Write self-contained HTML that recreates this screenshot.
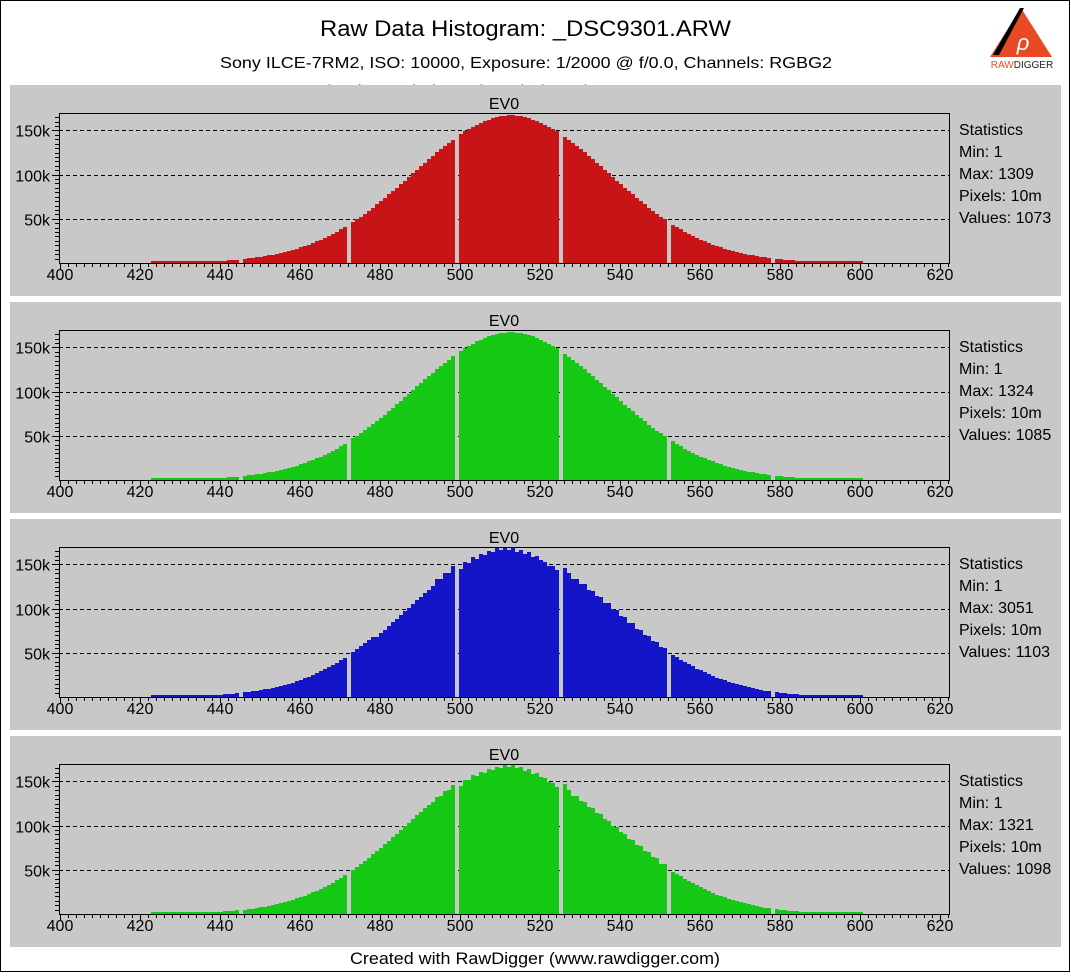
<!DOCTYPE html>
<html><head><meta charset="utf-8"><style>
html,body{margin:0;padding:0;background:#fff}
body{width:1071px;height:973px;position:relative;overflow:hidden;font-family:"Liberation Sans",Arial,sans-serif}
svg text{font-family:"Liberation Sans",Arial,sans-serif}
</style></head><body>
<svg id="chart" width="1071" height="973" viewBox="0 0 1071 973" xmlns="http://www.w3.org/2000/svg">
<rect x="0.5" y="0.5" width="1069" height="971" fill="#fff" stroke="#000"/>
<text x="320" y="36" font-size="22" textLength="411" lengthAdjust="spacingAndGlyphs">Raw Data Histogram: _DSC9301.ARW</text>
<text x="220" y="68" font-size="16" textLength="612" lengthAdjust="spacingAndGlyphs">Sony ILCE-7RM2, ISO: 10000, Exposure: 1/2000 @ f/0.0, Channels: RGBG2</text>
<text x="300" y="96" font-size="16">Scale: Linear, Black Level: 0, Black Mask: 0, 0, 0, 0</text>
<g>
<polygon points="1021,8 1052,57 990,57" fill="#e84a25"/>
<polygon points="1020,8 1024,8 999,55 993,55" fill="#000"/>
<text x="1023" y="50" font-size="22" fill="#fff" text-anchor="middle" font-style="italic">ρ</text>
<text x="1022" y="68" font-size="10" text-anchor="middle"><tspan fill="#e84a25">RAW</tspan><tspan fill="#222">DIGGER</tspan></text>
</g>
<g id="panels"></g>
<text x="350" y="964" font-size="17" textLength="370" lengthAdjust="spacingAndGlyphs">Created with RawDigger (www.rawdigger.com)</text>
</svg>
<script>
const firstBin = 423;
const xTicks = [400,420,440,460,480,500,520,540,560,580,600,620];
const yTicks = [50,100,150];
const yTickLabels = ["50k","100k","150k"];
const redValues = [.3,.35,.4,.45,.5,.55,.6,.7,.78,.9,1.0,1.1,1.3,1.4,1.6,1.9,2.1,2.4,2.6,2.9,3.3,3.7,0,4.6,5.1,5.7,6.3,7.0,7.7,8.5,9.4,10.3,11.3,12.4,13.6,14.9,16.2,17.7,19.2,20.9,22.6,24.4,26.4,28.5,30.7,33.0,35.5,38.0,40.7,0,46.4,49.4,52.6,55.8,59.2,62.6,66.3,69.9,73.6,77.5,81.3,85.3,89.2,93.3,97.3,101.3,105.5,109.5,113.5,117.5,121.3,125.2,128.9,132.6,136.1,139.5,0,145.8,148.8,151.6,154.2,156.5,158.7,160.6,162.3,163.7,164.9,165.8,166.5,166.9,167,166.5,165.8,164.9,163.7,162.3,160.6,158.7,156.5,154.2,151.6,148.8,0,142.8,139.5,136.1,132.6,128.9,125.2,121.3,117.5,113.5,109.5,105.5,101.3,97.3,93.3,89.2,85.3,81.3,77.5,73.6,69.9,66.3,62.6,59.2,55.8,52.6,49.4,0,43.5,40.7,38.0,35.5,33.0,30.7,28.5,26.4,24.4,22.6,20.9,19.2,17.7,16.2,14.9,13.6,12.4,11.3,10.3,9.4,8.5,7.7,7.0,6.3,5.7,0,4.6,4.1,3.7,3.3,2.9,2.6,2.4,2.1,1.9,1.6,1.4,1.3,1.1,1.0,.9,.78,.7,.6,.5,.45,.4,.3];
const green1Values = [.3,.35,.4,.45,.5,.55,.6,.7,.8,.9,1.0,1.2,1.3,1.5,1.7,1.9,2.1,2.4,2.7,3.0,3.3,3.8,0,4.7,5.2,5.8,6.4,7.1,7.8,8.6,9.5,10.4,11.4,12.5,13.7,15.0,16.3,17.8,19.3,21.0,22.7,24.5,26.5,28.6,30.8,33.1,35.6,38.2,41.0,0,47.0,50.0,53.0,56.2,59.5,63.0,66.6,70.2,74.0,77.8,81.6,85.6,89.5,93.6,97.6,101.6,105.8,109.8,113.8,117.8,121.6,125.4,129.2,132.8,136.3,139.8,0,146.2,149.0,151.8,154.4,156.8,158.9,160.8,162.5,163.9,165.0,166.0,166.6,167,167.2,166.6,165.9,165.0,163.8,162.4,160.7,158.8,156.6,154.3,151.7,148.9,0,143.0,139.7,136.3,132.8,129.1,125.4,121.5,117.6,113.6,109.6,105.6,101.4,97.4,93.4,89.3,85.4,81.4,77.6,73.7,70.0,66.4,62.7,59.3,55.9,52.7,49.5,0,43.6,40.8,38.1,35.6,33.1,30.8,28.6,26.5,24.5,22.7,21.0,19.3,17.8,16.3,15.0,13.7,12.5,11.4,10.4,9.5,8.6,7.8,7.1,6.4,5.8,0,4.7,4.2,3.8,3.4,3.0,2.7,2.4,2.2,1.9,1.7,1.5,1.3,1.2,1.0,.9,.8,.7,.6,.5,.45,.4,.3];
const blueValues = [.3,.35,.4,.45,.5,.6,.65,.75,.85,1.0,1.1,1.2,1.4,1.6,1.8,2.0,2.3,2.6,2.9,3.3,3.7,4.1,0,5.1,5.7,6.3,7.0,7.7,8.6,9.5,10.4,11.4,12.5,13.7,15.0,16.4,17.9,19.5,21.2,23.0,24.8,26.8,28.9,31.2,33.6,36.1,38.8,41.6,44.6,0,50.7,54.0,57.4,60.9,64.6,68.3,68.3,72.2,76.2,80.2,84.3,88.4,92.6,96.8,101.0,105.2,109.4,113.5,117.6,121.6,125.5,133.0,133.0,140.0,140.6,148.5,0,145.0,153.0,152.0,158.0,156.0,162.0,161.0,165.0,163.5,169.0,166.0,169.0,166.0,169.0,164.5,166.0,162.0,164.0,158.0,159.0,155.0,153.0,148.0,148.0,144.0,0,146.0,140.0,134.0,134.0,128.0,128.0,121.0,120.0,114.0,113.0,106.0,106.0,99.0,98.0,92.0,91.0,84.0,84.0,77.0,76.0,70.0,69.0,63.0,62.0,56.0,55.0,0,47.0,45.0,42.0,40.0,37.0,35.0,32.0,30.0,28.0,26.0,24.0,22.0,20.5,19.0,17.5,16.0,14.5,13.2,12.0,11.0,10.0,9.0,8.1,7.3,6.6,0,5.3,4.8,4.3,3.8,3.4,3.0,2.7,2.4,2.1,1.9,1.7,1.5,1.3,1.1,1.0,.9,.8,.7,.6,.5,.45,.35];
const green2Values = [.3,.35,.4,.45,.5,.6,.65,.75,.85,1.0,1.1,1.2,1.4,1.6,1.8,2.0,2.3,2.6,2.9,3.3,3.7,4.1,0,5.0,5.6,6.2,6.9,7.6,8.4,9.3,10.2,11.2,12.3,13.5,14.8,16.1,17.6,19.1,20.8,22.6,24.4,26.4,28.5,30.7,33.1,35.6,38.2,41.0,44.0,0,50.0,53.0,56.5,60.0,63.5,67.5,71.0,75.0,79.0,83.0,87.0,91.0,95.0,99.5,103.5,107.5,111.5,115.5,119.5,123.0,127.0,132.0,134.0,139.0,140.5,146.0,0,145.0,152.0,152.0,157.0,156.5,161.0,160.0,164.0,163.0,166.5,165.5,169.0,166.0,169.0,165.0,166.5,162.0,163.5,158.5,159.0,154.5,154.0,149.0,148.5,144.0,0,146.5,140.0,134.0,133.0,128.0,127.0,121.0,119.5,114.0,113.0,107.0,105.5,99.5,98.5,92.5,91.0,85.0,84.0,78.0,77.0,71.0,70.0,64.0,63.0,57.0,56.0,0,47.5,45.0,42.5,40.0,37.5,35.0,32.5,30.0,28.0,26.0,24.0,22.0,20.5,19.0,17.5,16.0,14.5,13.2,12.0,11.0,10.0,9.0,8.1,7.3,6.6,0,5.3,4.8,4.3,3.8,3.4,3.0,2.7,2.4,2.1,1.9,1.7,1.5,1.3,1.1,1.0,.9,.8,.7,.6,.5,.45,.35];
const channelNames = ["red","green","blue","green2"];
const channelColors = ["#c81416","#14c814","#1414c8","#14c814"];
const channelSeries = [redValues, green1Values, blueValues, green2Values];
const statMax = ["1309","1324","3051","1321"];
const statValues = ["1073","1085","1103","1098"];

const NS = "http://www.w3.org/2000/svg";
const panelsG = document.getElementById("panels");
function mk(tag, attrs, parent){ const e=document.createElementNS(NS,tag); for(const k in attrs) e.setAttribute(k,attrs[k]); parent.appendChild(e); return e; }

const frameL = 59, frameR = 949;
function xScale(v){ return 60 + (v - 400) * 4; }

channelSeries.forEach((vals, p) => {
  const off = 217 * p;
  const top = 113 + off, base = 263 + off;
  function yScale(k){ return base - k * (44.2 / 50); }
  const g = mk("g", {}, panelsG);
  
  
  const bg = mk("rect", {x:10, y:85+off, width:1051, height:211, fill:"#c8c8c8"}, g);
  
  
  const ev = mk("text", {x:504, y:109+off, "font-size":16, "text-anchor":"middle"}, g);
  ev.textContent = "EV0";
  
  
  yTicks.forEach((t, i) => {
    const y = Math.round(yScale(t)) + 0.5;
    const gl = mk("line", {x1:frameL, x2:frameR, y1:y, y2:y, stroke:"#000", "stroke-dasharray":"4,3"}, g);
    
    
    const lb = mk("text", {x:50, y:y+6, "font-size":16, "text-anchor":"end"}, g);
    lb.textContent = yTickLabels[i];
    
    
  });
  const bars = mk("g", {fill: channelColors[p]}, g);
  
  
  vals.forEach((v, i) => {
    if (v <= 0) return;
    const x0 = xScale(firstBin + i) - 1;
    const y = Math.min(Math.round(yScale(v)), base - 2);
    const r = mk("rect", {x:x0, y:y, width:4, height:base - y}, bars);
    
    
  });
  const fr = mk("rect", {x:frameL+0.5, y:top+0.5, width:frameR-frameL, height:base-top, fill:"none", stroke:"#000"}, g);
  
  
  let d = "";
  for (let v = 400; v <= 622; v += 2) {
    const x = Math.round(xScale(v)) + 0.5;
    const len = (v % 20 === 0) ? 6 : 4;
    d += `M${x} ${base} v${len} `;
  }
  for (let k = 5; k <= 165; k += 5) {
    const y = Math.round(yScale(k)) + 0.5;
    const len = (k % 50 === 0) ? 7 : 4;
    d += `M${frameL} ${y} h${-len} `;
  }
  const tk = mk("path", {d:d, stroke:"#000", fill:"none"}, g);
  
  
  xTicks.forEach(t => {
    const lb = mk("text", {x:xScale(t), y:base+17, "font-size":16, "text-anchor":"middle"}, g);
    lb.textContent = String(t);
    
    
  });
  const stats = ["Statistics", "Min: 1", "Max: " + statMax[p], "Pixels: 10m", "Values: " + statValues[p]];
  stats.forEach((s, i) => {
    const st = mk("text", {x:959, y:135 + off + i * 22, "font-size":16}, g);
    st.textContent = s;
    
    
  });
});
</script>
</body></html>
